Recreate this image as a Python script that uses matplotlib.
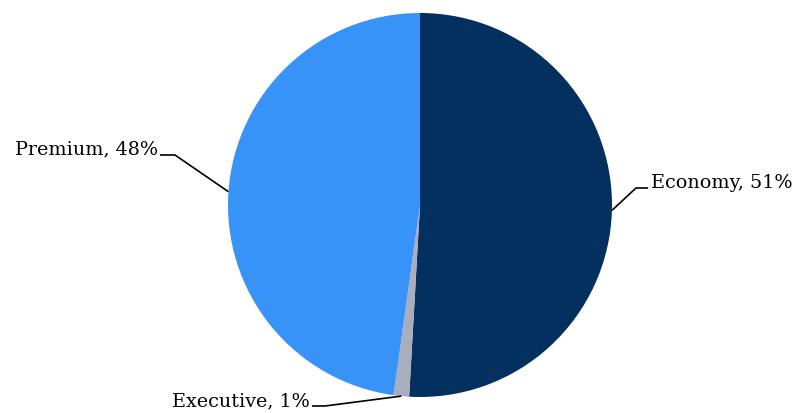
import numpy as np
import matplotlib.pyplot as plt

# data
categories = ["Economy", "Executive", "Premium"]
shares = [50.9, 1.3, 47.8]
shown_pct = ["51%", "1%", "48%"]
colors = ["#03305E", "#A9AEBD", "#3893F8"]

W, H = 803, 413
fig = plt.figure(figsize=(W / 100, H / 100), dpi=100)
ax = fig.add_axes([0, 0, 1, 1])

cx, cy, r = 420, 208, 192
wedges, _ = ax.pie(shares, colors=colors, startangle=90, counterclock=False,
                   center=(cx, cy), radius=r, frame=True,
                   wedgeprops=dict(linewidth=0))
ax.set_xlim(0, W)
ax.set_ylim(0, H)
ax.set_aspect("equal")
ax.axis("off")

# label layout: (elbow x, elbow y, end x, text side)
layout = {
    "Economy": (636, H - 188, 648, "left"),
    "Executive": (325, H - 406, 312, "right"),
    "Premium": (175, H - 155, 160, "right"),
}

for w, cat, pct in zip(wedges, categories, shown_pct):
    mid = np.deg2rad((w.theta1 + w.theta2) / 2)
    ex, ey = cx + r * np.cos(mid), cy + r * np.sin(mid)
    bx, by, tx, side = layout[cat]
    ax.plot([ex, bx, tx], [ey, by, by], color="black", lw=1.2,
            solid_capstyle="butt")
    off = 3 if side == "left" else -2
    dy = 6 if cat == "Premium" else 5
    ax.text(tx + off, by + dy, f"{cat}, {pct}", ha=side, va="center",
            fontsize=13.8, family="DejaVu Serif", color="black")

fig.savefig("out.png", dpi=100)
